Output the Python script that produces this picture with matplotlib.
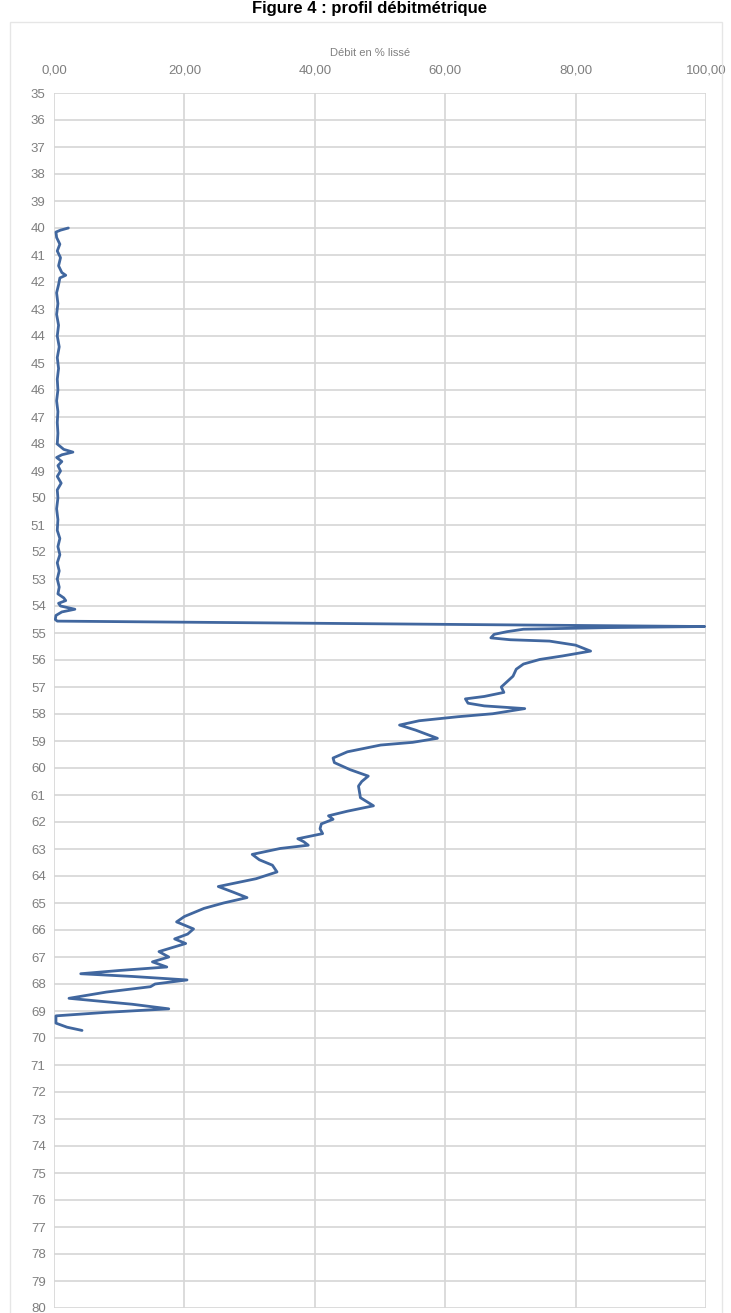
import matplotlib.pyplot as plt
from matplotlib.patches import Rectangle

# depth (m) and smoothed flow
depth = [40.00, 40.08, 40.15, 40.35, 40.60, 40.85, 41.10, 41.40, 41.65, 41.75,
         41.85, 42.10, 42.40, 42.80, 43.20, 43.60, 44.00, 44.40, 44.80, 45.20,
         45.60, 46.00, 46.40, 46.80, 47.20, 47.60, 48.00, 48.20, 48.30, 48.40,
         48.50, 48.65, 48.80, 49.00, 49.20, 49.45, 49.70, 50.00, 50.40, 50.80,
         51.20, 51.50, 51.80, 52.10, 52.40, 52.70, 53.00, 53.30, 53.55, 53.70,
         53.80, 53.90, 54.00, 54.12, 54.22, 54.35, 54.50, 54.56, 54.66, 54.76,
         54.80, 54.86, 54.95, 55.05, 55.18, 55.25, 55.30, 55.45, 55.67, 55.85,
         55.98, 56.15, 56.34, 56.60, 56.80, 57.00, 57.20, 57.35, 57.44, 57.60,
         57.70, 57.80, 57.99, 58.10, 58.25, 58.41, 58.60, 58.90, 59.05, 59.15,
         59.40, 59.63, 59.80, 60.06, 60.30, 60.50, 60.67, 61.10, 61.40, 61.60,
         61.77, 61.90, 62.07, 62.25, 62.43, 62.62, 62.73, 62.86, 62.98, 63.20,
         63.40, 63.60, 63.85, 64.10, 64.39, 64.60, 64.80, 65.00, 65.20, 65.50,
         65.70, 65.96, 66.15, 66.33, 66.50, 66.80, 67.00, 67.18, 67.37, 67.50,
         67.62, 67.72, 67.85, 68.00, 68.10, 68.30, 68.53, 68.75, 68.92, 69.05,
         69.18, 69.45, 69.60, 69.72]
debit = [2.2, 1.0, 0.3, 0.4, 0.9, 0.5, 1.0, 0.7, 1.2, 1.8,
         0.9, 0.7, 0.4, 0.6, 0.4, 0.7, 0.5, 0.8, 0.5, 0.7,
         0.5, 0.6, 0.4, 0.6, 0.5, 0.6, 0.5, 1.5, 2.9, 1.2,
         0.4, 1.2, 0.6, 1.0, 0.5, 1.1, 0.5, 0.6, 0.4, 0.6,
         0.5, 0.9, 0.6, 0.9, 0.5, 0.8, 0.5, 0.8, 0.6, 1.5,
         1.8, 0.7, 1.0, 3.2, 1.2, 0.3, 0.2, 0.5, 50.0, 99.8,
         85.0, 72.0, 69.5, 67.5, 67.0, 70.0, 76.0, 80.0, 82.3, 78.0,
         74.5, 72.0, 70.9, 70.4, 69.5, 68.6, 69.0, 66.0, 63.1, 63.5,
         66.0, 72.2, 67.3, 62.0, 56.0, 53.0, 55.5, 58.8, 55.0, 50.1,
         45.0, 42.8, 43.0, 45.4, 48.2, 47.2, 46.7, 47.0, 49.0, 45.0,
         42.1, 42.8, 41.0, 40.8, 41.2, 37.4, 38.3, 39.0, 34.7, 30.4,
         31.5, 33.5, 34.2, 31.0, 25.2, 27.5, 29.6, 26.0, 23.0, 20.0,
         18.8, 21.4, 20.5, 18.5, 20.2, 16.1, 17.6, 15.1, 17.3, 10.0,
         4.1, 12.0, 20.4, 15.5, 14.8, 8.0, 2.3, 12.0, 17.6, 8.0,
         0.3, 0.3, 2.0, 4.3]

x_ticks = [0, 20, 40, 60, 80, 100]
x_labels = ["0,00", "20,00", "40,00", "60,00", "80,00", "100,00"]
y_ticks = list(range(35, 81))

W, H = 731, 1313
fig = plt.figure(figsize=(W / 100, H / 100), dpi=100)
plt.rcParams['font.family'] = ['Liberation Sans', 'DejaVu Sans']

# faint chart-area border
fig.patches.append(Rectangle((10 / W, -0.01), 712 / W, 1 - 22 / H + 0.01,
                             transform=fig.transFigure, fill=False,
                             edgecolor='#e6e6e6', linewidth=1))

ax = fig.add_axes([54 / W, 5 / H, 652 / W, (1308 - 93) / H])
ax.plot(debit, depth, color='#41679f', linewidth=2.0,
        solid_joinstyle='round', solid_capstyle='round')

ax.set_xlim(0, 100)
ax.set_ylim(80, 35)
ax.xaxis.tick_top()
ax.set_xticks(x_ticks)
ax.set_xticklabels(x_labels)
ax.set_yticks(y_ticks)
ax.tick_params(axis='both', length=0, labelsize=9.5, colors='#7f7f7f')
ax.tick_params(axis='x', pad=12)
ax.tick_params(axis='y', pad=6)
ax.grid(True, color='#d6d6d6', linewidth=1.2)
ax.set_axisbelow(True)
for s in ax.spines.values():
    s.set_visible(False)

fig.text(370 / W, 1 - 53 / H, "Débit en % lissé", ha='center', va='center',
         fontsize=8, color='#808080')
# title at the very top edge
fig.text(370 / W, 1 - 1 / H, "Figure 4 : profil débitmétrique", ha='center',
         va='top', fontsize=12, fontweight='bold', color='black')

fig.savefig('out.png', dpi=100)
